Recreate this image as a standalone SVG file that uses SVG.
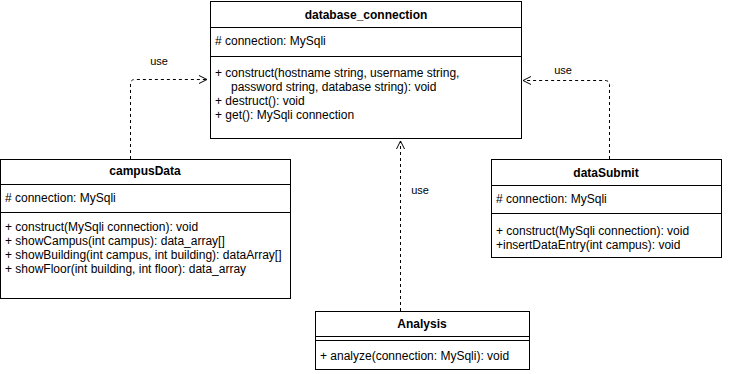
<svg xmlns="http://www.w3.org/2000/svg" width="731" height="374" viewBox="0 0 731 374">
  <style>
    .box { fill: #ffffff; stroke: #000000; stroke-width: 1; }
    .sep { stroke: #000000; stroke-width: 1; fill: none; }
    .title { font-family: "Liberation Sans", Arial, Helvetica, sans-serif; font-size: 12px; font-weight: bold; fill: #000000; text-anchor: middle; dominant-baseline: central; }
    .txt { font-family: "Liberation Sans", Arial, Helvetica, sans-serif; font-size: 12px; fill: #000000; dominant-baseline: central; }
    .lbl { font-family: "Liberation Sans", Arial, Helvetica, sans-serif; font-size: 11px; fill: #000000; text-anchor: middle; dominant-baseline: central; }
    .dep { fill: none; stroke: #000000; stroke-width: 1; stroke-dasharray: 3 3; marker-end: url(#open); }
  </style>
  <defs>
    <marker id="open" viewBox="0 0 10 10" refX="9" refY="5" markerWidth="10" markerHeight="10" markerUnits="userSpaceOnUse" orient="auto">
      <path d="M1,1 L9,5 L1,9" fill="none" stroke="#000000" stroke-width="1"/>
    </marker>
  </defs>

  <rect width="731" height="374" fill="#ffffff"/>

  <!-- dependency connectors -->
  <g id="connectors">
    <path class="dep" d="M130.5,159 V84 Q130.5,79.5 135,79.5 H207"/>
    <text class="lbl" x="159" y="61">use</text>
    <path class="dep" d="M609.5,159 V85 Q609.5,80.5 605,80.5 H523"/>
    <text class="lbl" x="563" y="70">use</text>
    <path class="dep" d="M400.5,311 V141"/>
    <text class="lbl" x="420" y="190">use</text>
  </g>

  <g id="database_connection">
    <rect class="box" x="210.5" y="1.5" width="311" height="137"/>
    <line class="sep" x1="210.5" y1="27.5" x2="521.5" y2="27.5"/>
    <line class="sep" x1="210.5" y1="56.5" x2="521.5" y2="56.5"/>
    <text class="title" x="366" y="15">database_connection</text>
    <text class="txt" x="215" y="41"># connection: MySqli</text>
    <text class="txt" x="215" y="73">+ construct(hostname string, username string,</text>
    <text class="txt" x="231" y="87">password string, database string): void</text>
    <text class="txt" x="215" y="101">+ destruct(): void</text>
    <text class="txt" x="215" y="115">+ get(): MySqli connection</text>
  </g>

  <g id="campusData">
    <rect class="box" x="0.5" y="159.5" width="290" height="139"/>
    <line class="sep" x1="0.5" y1="184.5" x2="290.5" y2="184.5"/>
    <line class="sep" x1="0.5" y1="212.5" x2="290.5" y2="212.5"/>
    <text class="title" x="145" y="171">campusData</text>
    <text class="txt" x="5" y="198"># connection: MySqli</text>
    <text class="txt" x="5" y="227">+ construct(MySqli connection): void</text>
    <text class="txt" x="5" y="241">+ showCampus(int campus): data_array[]</text>
    <text class="txt" x="5" y="255">+ showBuilding(int campus, int building): dataArray[]</text>
    <text class="txt" x="5" y="269">+ showFloor(int building, int floor): data_array</text>
  </g>

  <g id="dataSubmit">
    <rect class="box" x="491.5" y="159.5" width="230" height="98"/>
    <line class="sep" x1="491.5" y1="185.5" x2="721.5" y2="185.5"/>
    <line class="sep" x1="491.5" y1="213.5" x2="721.5" y2="213.5"/>
    <text class="title" x="606" y="173">dataSubmit</text>
    <text class="txt" x="496" y="199"># connection: MySqli</text>
    <text class="txt" x="496" y="231">+ construct(MySqli connection): void</text>
    <text class="txt" x="496" y="245">+insertDataEntry(int campus): void</text>
  </g>

  <g id="Analysis">
    <rect class="box" x="315.5" y="311.5" width="214" height="58"/>
    <line class="sep" x1="315.5" y1="336.5" x2="529.5" y2="336.5"/>
    <line class="sep" x1="315.5" y1="340.5" x2="529.5" y2="340.5"/>
    <text class="title" x="422" y="324">Analysis</text>
    <text class="txt" x="320" y="356">+ analyze(connection: MySqli): void</text>
  </g>
</svg>
